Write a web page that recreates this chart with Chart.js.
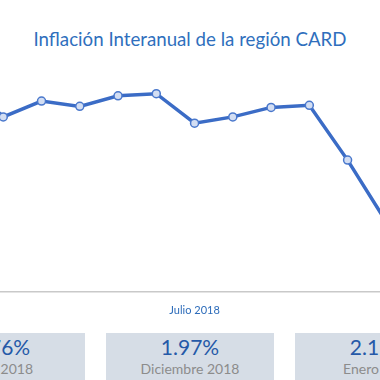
<!DOCTYPE html>
<html>
<head>
<meta charset="utf-8">
<script src="https://cdn.jsdelivr.net/npm/chart.js@4/dist/chart.umd.min.js"></script>
<style>
  html, body { margin: 0; padding: 0; background: #fff; }
  body { width: 380px; height: 380px; overflow: hidden; position: relative; font-family: Lato, "Open Sans", sans-serif; }
  #title { position: absolute; left: 0; width: 380px; top: 27px; text-align: center; color: #2f6fbd; font-size: 18.7px; line-height: 24px; white-space: nowrap; }
  #wrap { position: absolute; left: -47.26px; top: 60px; width: 483.12px; height: 269px; }
  .box { position: absolute; top: 333px; width: 168px; height: 60px; background: #d6dde6; text-align: center; }
  .box .v { position: absolute; left: 0; right: 0; top: 2px; font-size: 21px; line-height: 24px; color: #2559a8; white-space: nowrap; }
  .box .l { position: absolute; left: 0; right: 0; top: 27px; font-size: 14px; line-height: 18px; color: #8c8c8c; white-space: nowrap; }
</style>
</head>
<body>
<div id="title"></div>
<div id="wrap"><canvas id="c"></canvas></div>
<div id="boxes"></div>
<script>
const chartTitle = "Inflación Interanual de la región CARD";
const months = ["Enero 2018", "Febrero 2018", "Marzo 2018", "Abril 2018", "Mayo 2018", "Junio 2018",
                "Julio 2018", "Agosto 2018", "Septiembre 2018", "Octubre 2018", "Noviembre 2018",
                "Diciembre 2018", "Enero 2019"];
const inflation = [3.30, 2.96, 3.11, 3.06, 3.16, 3.18, 2.90, 2.96, 3.05, 3.07, 2.55, 1.97, 2.15];
const shownTick = "Julio 2018";
const boxValues = ["1.76%", "1.97%", "2.15%"];
const boxLabels = ["Julio 2018", "Diciembre 2018", "Enero 2019"];

document.getElementById('title').textContent = chartTitle;
const boxLefts = [-83, 106, 295];
const boxesEl = document.getElementById('boxes');
boxValues.forEach((v, i) => {
  const d = document.createElement('div');
  d.className = 'box';
  d.style.left = boxLefts[i] + 'px';
  d.innerHTML = '<div class="v"></div><div class="l"></div>';
  d.querySelector('.v').textContent = v;
  d.querySelector('.l').textContent = boxLabels[i];
  boxesEl.appendChild(d);
});

new Chart(document.getElementById('c'), {
  type: 'line',
  data: {
    labels: months,
    datasets: [{
      data: inflation,
      borderColor: '#3b6cc6',
      borderWidth: 3.5,
      pointRadius: 4,
      pointBorderWidth: 1.5,
      pointBackgroundColor: '#d3def3',
      pointBorderColor: '#4a78cc',
      tension: 0,
      clip: false
    }]
  },
  options: {
    responsive: true,
    maintainAspectRatio: false,
    animation: false,
    layout: { padding: 0, autoPadding: false },
    plugins: { legend: { display: false }, title: { display: false }, tooltip: { enabled: false } },
    scales: {
      x: {
        type: 'category',
        offset: false,
        grid: { display: false, drawTicks: false },
        border: { display: true, color: '#c9c9c9', width: 1.5 },
        ticks: {
          autoSkip: false, maxRotation: 0, padding: 12,
          color: '#2d6cba',
          font: { family: 'Lato', size: 11 },
          callback: function(val, idx) { const l = this.getLabelForValue(val); return l === shownTick ? l : ''; }
        }
      },
      y: { display: false, min: 1.3, max: 3.5 }
    }
  }
});
</script>
</body>
</html>
